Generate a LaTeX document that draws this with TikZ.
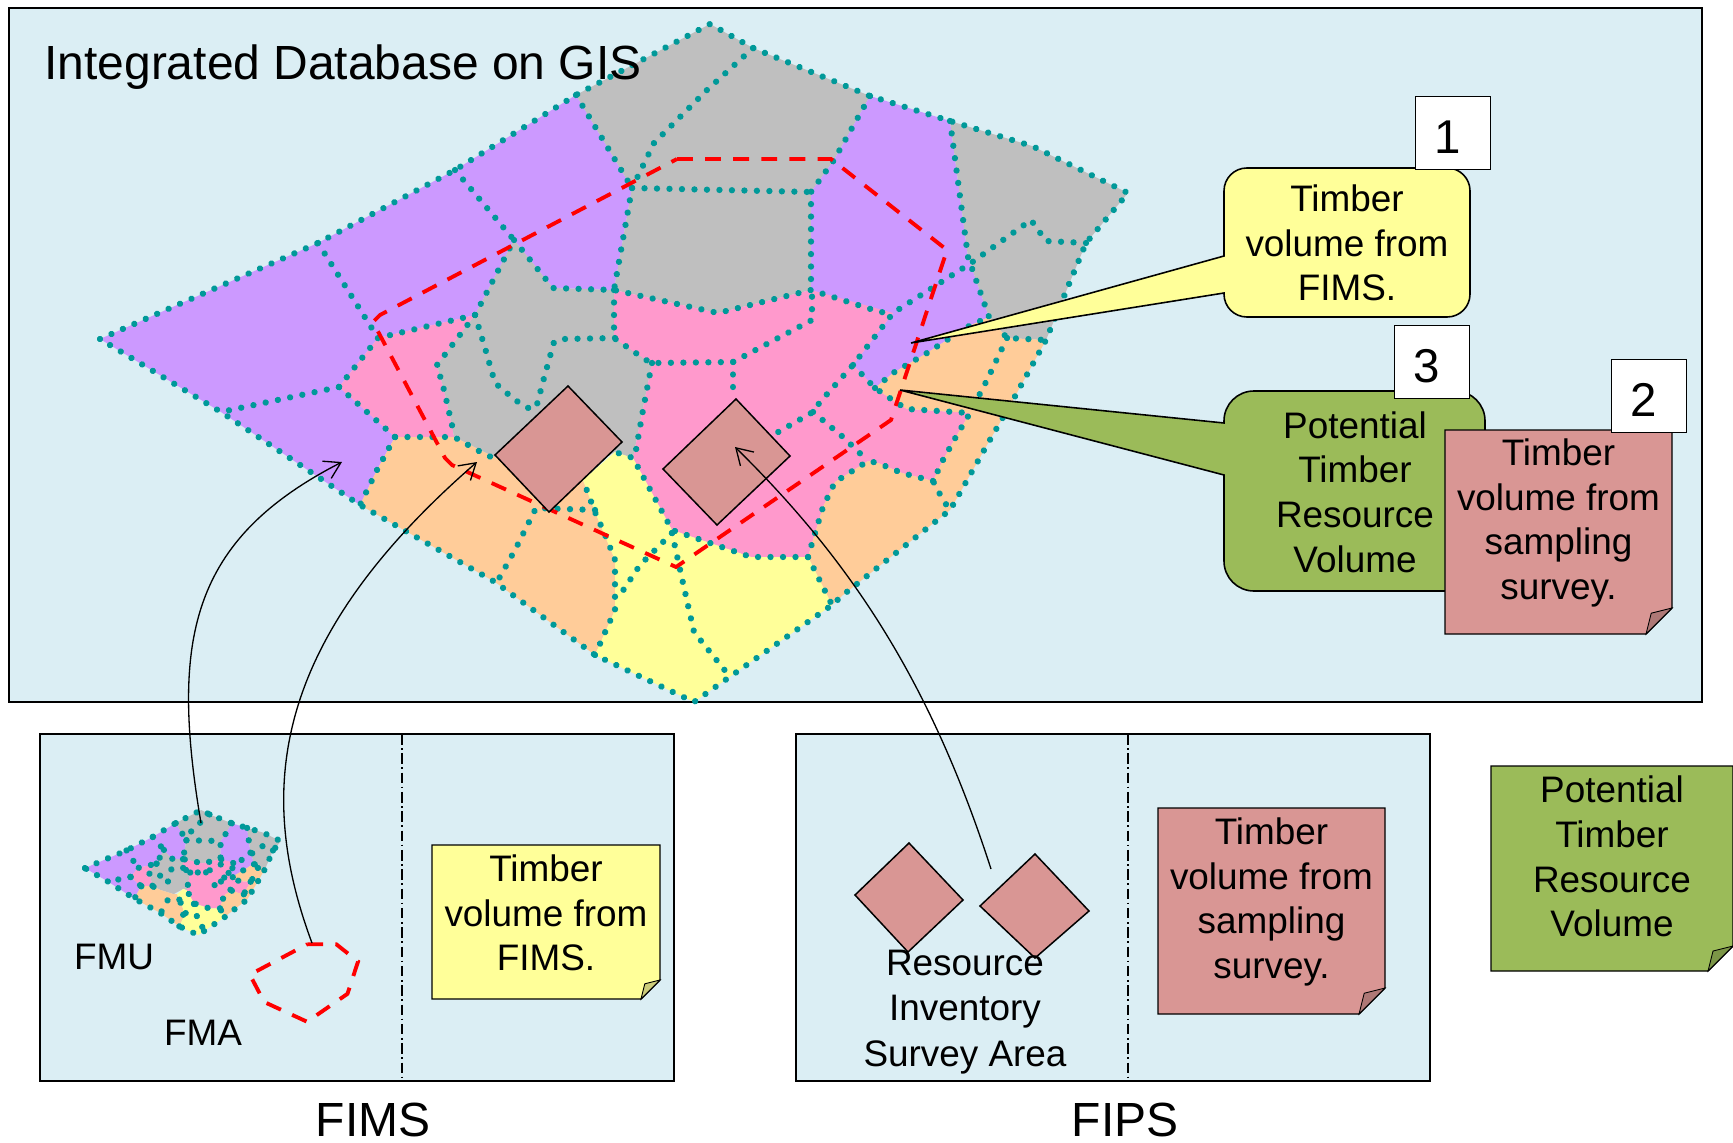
\documentclass[tikz,border=0pt]{standalone}
\usepackage{fontspec}
\setmainfont{Liberation Sans}
\usepackage{xcolor}
\usepackage{tikz}
\usetikzlibrary{arrows.meta}

\definecolor{panelblue}{HTML}{DBEEF4}
\definecolor{cellpurple}{HTML}{CC99FF}
\definecolor{cellgrey}{HTML}{BFBFBF}
\definecolor{cellpink}{HTML}{FF99CC}
\definecolor{cellorange}{HTML}{FFCC99}
\definecolor{cellyellow}{HTML}{FFFF99}
\definecolor{cellteal}{HTML}{009999}
\definecolor{samplered}{HTML}{D99694}
\definecolor{potentialgreen}{HTML}{9BBB59}

\tikzset{
  panel/.style={draw=black, line width=0.9pt, fill=panelblue},
  divider/.style={draw=black, line width=0.6pt, dash pattern=on 6pt off 2pt on 1pt off 2pt},
  cellline/.style={draw=cellteal, line width=3.6pt, line cap=round, dash pattern=on 0.01pt off 7.1pt},
  fmaline/.style={draw=red, line width=2.2pt, dash pattern=on 9pt off 7pt},
  surveydiamond/.style={draw=black, line width=0.85pt, fill=samplered},
  flowarrow/.style={draw=black, line width=0.75pt, -{Straight Barb[length=9pt,width=11pt]}},
  bodytext/.style={inner sep=0pt, align=center, font=\fontsize{21}{25.4}\selectfont},
  headtext/.style={inner sep=0pt, font=\fontsize{27.3}{32}\selectfont},
  numbox/.style={draw=black, line width=0.6pt, fill=white, inner sep=0pt, minimum width=43pt, minimum height=41.5pt, font=\fontsize{27}{32}\selectfont, execute at begin node=\rule{0pt}{23.2pt}, execute at end node=\hspace{6.5pt}}
}

\newcommand{\gismap}{
\fill[cellpurple] (100,339) -- (318,243) -- (455,170) -- (576,95) -- (632,188) -- (614,290) -- (553,288) -- (514,240) -- (475,315) -- (378,338) -- (339,387) -- (395,437) -- (377,470) -- (360,505) -- (221,412) -- cycle;
\fill[cellgrey] (576,95) -- (710,24) -- (753,48) -- (870,96) -- (834,160) -- (811,192) -- (811,290) -- (718,313) -- (614,290) -- (632,188) -- cycle;
\fill[cellpurple] (870,96) -- (950,121) -- (968,257) -- (989,317) -- (967,327) -- (947,340) -- (927,353) -- (893,373) -- (875,388) -- (853,365) -- (893,313) -- (880,312) -- (811,290) -- (811,192) -- (834,160) -- cycle;
\fill[cellgrey] (950,121) -- (1032,146) -- (1128,193) -- (1086,243) -- (1046,340) -- (1007,338) -- (989,317) -- (968,257) -- cycle;
\fill[cellpink] (339,387) -- (378,338) -- (475,315) -- (437,365) -- (444,390) -- (452,425) -- (454,437) -- (395,437) -- cycle;
\fill[cellgrey] (475,315) -- (514,240) -- (553,288) -- (614,290) -- (614,338) -- (652,363) -- (633,458) -- (615,452) -- (565,480) -- (494,457) -- (454,437) -- (452,425) -- (444,390) -- (437,365) -- cycle;
\fill[cellpink] (614,290) -- (718,313) -- (811,290) -- (893,313) -- (853,365) -- (875,388) -- (897,403) -- (907,409) -- (970,413) -- (957,435) -- (943,460) -- (933,481) -- (902,473) -- (878,463) -- (868,461) -- (835,482) -- (823,507) -- (813,540) -- (808,557) -- (751,557) -- (672,530) -- (633,458) -- (652,363) -- (646,360) -- (614,338) -- cycle;
\fill[cellorange] (875,388) -- (893,373) -- (927,353) -- (947,340) -- (967,327) -- (989,317) -- (1007,338) -- (1046,340) -- (1013,400) -- (987,445) -- (957,498) -- (950,510) -- (843,595) -- (832,605) -- (823,587) -- (808,557) -- (813,540) -- (823,507) -- (835,482) -- (868,461) -- (878,463) -- (902,473) -- (933,481) -- (943,460) -- (957,435) -- (970,413) -- (907,409) -- (897,403) -- cycle;
\fill[cellorange] (395,437) -- (454,437) -- (494,457) -- (565,480) -- (583,480) -- (595,512) -- (615,560) -- (615,610) -- (595,655) -- (495,582) -- (360,505) -- (377,470) -- cycle;
\fill[cellyellow] (615,452) -- (633,458) -- (672,530) -- (751,557) -- (808,557) -- (823,587) -- (832,605) -- (694,702) -- (595,655) -- (615,610) -- (615,560) -- (595,512) -- (583,480) -- cycle;
\draw[cellline] (100,339) -- (318,243) -- (455,170) -- (576,95) -- (710,24) -- (753,48) -- (870,96) -- (950,121) -- (1032,146) -- (1128,193) -- (1086,243) -- (1046,340) -- (1013,400) -- (987,445) -- (957,498) -- (950,510) -- (843,595) -- (832,605) -- (694,702) -- (595,655) -- (495,582) -- (360,505) -- (221,412) -- cycle;
\draw[cellline] (318,243) -- (378,338);
\draw[cellline] (455,170) -- (514,240);
\draw[cellline] (576,95) -- (632,188);
\draw[cellline] (753,48) -- (707,90) -- (654,143) -- (636,180) -- (632,188);
\draw[cellline] (632,188) -- (811,192);
\draw[cellline] (632,188) -- (614,290);
\draw[cellline] (870,96) -- (834,160) -- (811,192) -- (811,290);
\draw[cellline] (950,121) -- (968,257) -- (989,317) -- (1007,338) -- (1046,340);
\draw[cellline] (1086,243) -- (1046,241) -- (1031,220) -- (971,263) -- (893,313) -- (853,365) -- (820,402) -- (813,412) -- (773,435);
\draw[cellline] (813,412) -- (843,437) -- (868,461);
\draw[cellline] (853,365) -- (875,388) -- (897,403) -- (907,409) -- (970,413) -- (957,435) -- (943,460) -- (933,481) -- (943,500) -- (950,510);
\draw[cellline] (1007,338) -- (987,380) -- (970,413);
\draw[cellline] (875,388) -- (893,373) -- (927,353) -- (947,340) -- (967,327) -- (989,317);
\draw[cellline] (933,481) -- (902,473) -- (878,463) -- (868,461) -- (835,482) -- (823,507) -- (813,540) -- (808,557) -- (823,587) -- (832,605);
\draw[cellline] (808,557) -- (751,557) -- (672,530) -- (633,458) -- (615,452);
\draw[cellline] (672,533) -- (640,565) -- (618,598);
\draw[cellline] (672,533) -- (683,583) -- (694,632) -- (710,652) -- (731,678);
\draw[cellline] (595,655) -- (615,610) -- (615,560) -- (606,537) -- (595,512) -- (583,480);
\draw[cellline] (595,510) -- (536,508) -- (515,550) -- (497,582);
\draw[cellline] (395,437) -- (454,437) -- (477,450) -- (497,460);
\draw[cellline] (395,437) -- (377,470) -- (360,505);
\draw[cellline] (339,387) -- (395,437);
\draw[cellline] (339,387) -- (221,412);
\draw[cellline] (339,387) -- (378,338) -- (475,315) -- (514,240);
\draw[cellline] (475,315) -- (437,365) -- (444,390) -- (452,425) -- (454,437);
\draw[cellline] (475,315) -- (485,348) -- (495,383) -- (515,400) -- (535,412);
\draw[cellline] (514,240) -- (553,288) -- (614,290) -- (718,313) -- (811,290) -- (880,312) -- (893,313);
\draw[cellline] (614,290) -- (614,338) -- (646,360) -- (652,363) -- (733,362) -- (812,320) -- (812,290);
\draw[cellline] (615,338) -- (565,339) -- (554,342) -- (544,378) -- (535,412);
\draw[cellline] (733,362) -- (733,397);
\draw[cellline] (652,363) -- (643,410) -- (636,450) -- (633,458);
}

\newcommand{\fmaoutline}{
\draw[fmaline] (677,159) -- (831,159) -- (947,250) -- (891,420) -- (676,567) -- (452,465) -- (445,458) -- (373,322) -- (380,315) -- cycle;
}

\newcommand{\notecard}[8][9]{
\draw[line width=0.8pt, fill=#7] (#3,#4) -- (#5,#4) -- (#5,#6-#2) -- (#5-#2,#6) -- (#3,#6) -- cycle;
\draw[line width=0.5pt, fill=#7!80!black] (#5-#2,#6) -- (#5-0.8*#2,#6-0.8*#2) -- (#5,#6-#2) -- cycle;
\node[bodytext] (#8) at ({(#3+#5)/2},{(#4+#6)/2-#1}) {\csname #8text\endcsname};
}
\newcommand{\samplenotetext}{Timber\\volume from\\sampling\\survey.}
\newcommand{\fipsnotetext}{Timber\\volume from\\sampling\\survey.}
\newcommand{\fimsnotetext}{Timber\\volume from\\FIMS.}
\newcommand{\potentialnotetext}{Potential\\Timber\\Resource\\Volume}

\begin{document}
\begin{tikzpicture}[x=0.02cm, y=-0.02cm]
\useasboundingbox (0,0) rectangle (1733,1142);
\fill[white] (0,0) rectangle (1733,1142);

\draw[panel] (9,8) rectangle (1702,702);
\draw[panel] (40,734) rectangle (674,1081);
\draw[panel] (796,734) rectangle (1430,1081);
\draw[divider] (402,734) -- (402,1081);
\draw[divider] (1128,734) -- (1128,1081);

\gismap
\fmaoutline

\begin{scope}[shift={(65.9,805.6)}, xscale=0.1907, yscale=0.1844]
\gismap
\end{scope}
\begin{scope}[shift={(180,914)}, xscale=0.188, yscale=0.19]
\fmaoutline
\end{scope}

\draw[surveydiamond] (568,386) -- (622,442) -- (549,512) -- (495,455) -- cycle;
\draw[surveydiamond] (736,399) -- (790,456) -- (717,525) -- (663,469) -- cycle;
\draw[surveydiamond] (909,843) -- (963,900) -- (908,952) -- (855,895) -- cycle;
\draw[surveydiamond] (1035,854) -- (1089,911) -- (1035,958) -- (980,906) -- cycle;

\coordinate (yellowtip) at (911,343);
\coordinate (greentip) at (900,390);
\draw[line width=0.9pt, fill=cellyellow, rounded corners=13pt] (1224,256) -- (1224,168) -- (1470,168) -- (1470,317) -- (1224,317) [sharp corners] -- (1224,293) -- (yellowtip) -- cycle;
\draw[line width=0.9pt, fill=potentialgreen, rounded corners=17pt] (1224,423) -- (1224,391) -- (1485,391) -- (1485,591) -- (1224,591) [sharp corners] -- (1224,475) -- (greentip) -- cycle;
\node[bodytext] (yellowcall) at (1347,243) {Timber\\volume from\\FIMS.};
\node[bodytext] (greencall) at (1355,492) {Potential\\Timber\\Resource\\Volume};

\notecard{26}{1445}{430}{1672}{634}{samplered}{samplenote}
\notecard{19}{432}{845}{660}{999}{cellyellow}{fimsnote}
\notecard{26}{1158}{808}{1385}{1014}{samplered}{fipsnote}
\notecard[12]{25}{1491}{766}{1733}{971}{potentialgreen}{potentialnote}

\node[numbox] (numone) at (1453,133) {1};
\node[numbox] (numthree) at (1432,362) {3};
\node[numbox] (numtwo) at (1649,396) {2};

\node[headtext, anchor=west] (maptitle) at (44,67) {Integrated Database on GIS};
\node[headtext] (fimstitle) at (373,1120) {FIMS};
\node[headtext] (fipstitle) at (1125,1120) {FIPS};
\node[bodytext] (fmulabel) at (114,957) {FMU};
\node[bodytext] (fmalabel) at (203,1033) {FMA};
\node[bodytext, font=\fontsize{21}{25.9}\selectfont] (surveylabel) at (965,1012) {Resource\\Inventory\\Survey Area};

\coordinate (fmustart) at (201,823);
\coordinate (fmuend) at (342,462);
\coordinate (fmastart) at (312,943);
\coordinate (fmaend) at (477,462);
\coordinate (surveystart) at (991,869);
\coordinate (surveyend) at (735,447);
\draw[flowarrow] (fmustart) .. controls (170,640) and (190,540) .. (fmuend);
\draw[flowarrow] (fmastart) .. controls (255,790) and (272,640) .. (fmaend);
\draw[flowarrow] (surveystart) .. controls (930,680) and (850,560) .. (surveyend);
\end{tikzpicture}
\end{document}
